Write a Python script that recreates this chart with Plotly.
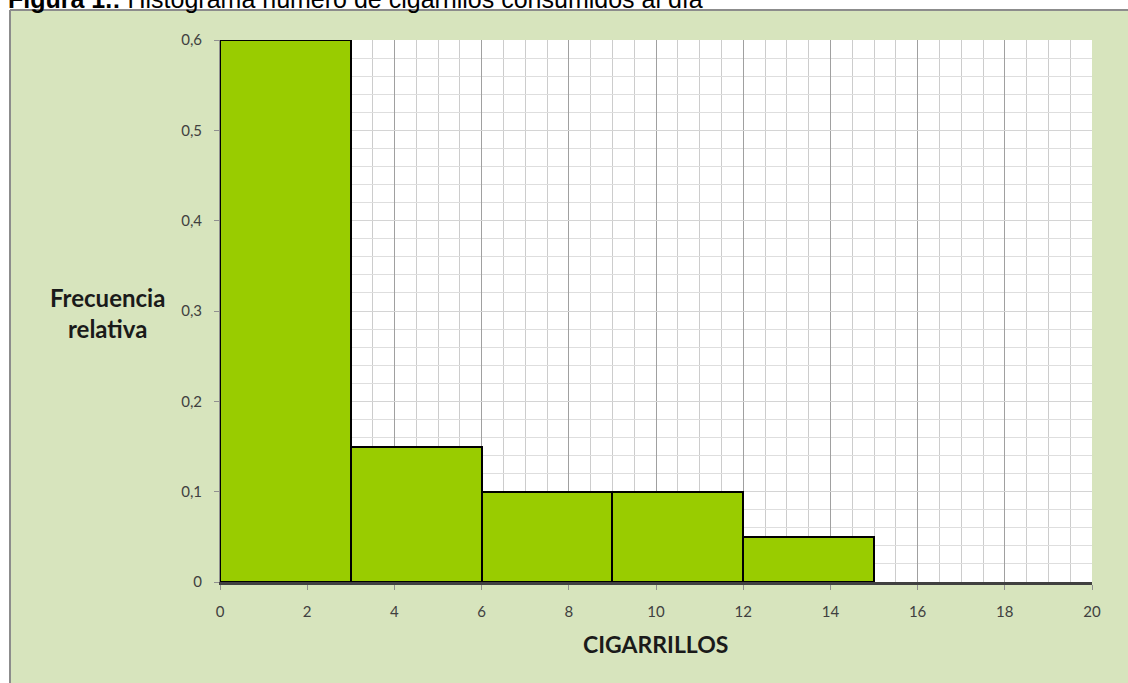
import plotly.graph_objects as go

# clases (límites) y frecuencias relativas
lim_inf = [0, 3, 6, 9, 12]
lim_sup = [3, 6, 9, 12, 15]
frec_rel = [0.6, 0.15, 0.1, 0.1, 0.05]

x_ticks = [0, 2, 4, 6, 8, 10, 12, 14, 16, 18, 20]
y_ticks = [0, 0.1, 0.2, 0.3, 0.4, 0.5, 0.6]

centros = [(a + b) / 2 for a, b in zip(lim_inf, lim_sup)]
anchos = [b - a for a, b in zip(lim_inf, lim_sup)]

W, H = 1128, 683
L, R, T, B = 220, 36, 40, 101
pw, ph = W - L - R, H - T - B


def px(x):
    return (x - L) / pw


def py(y):
    return (H - B - y) / ph


verde = "#d7e4bd"
fig = go.Figure()

fig.add_trace(go.Bar(
    x=centros, y=frec_rel, width=anchos,
    marker=dict(color="#99cc00", line=dict(color="#000000", width=2)),
    hoverinfo="skip",
))

fig.update_layout(
    width=W, height=H,
    margin=dict(l=L, r=R, t=T, b=B),
    paper_bgcolor=verde,
    plot_bgcolor="white",
    showlegend=False,
    separators=",.",
    bargap=0,
    font=dict(family="Lato", color="#404040", size=15),
)

fig.update_xaxes(
    range=[0, 20], tickvals=x_ticks,
    showgrid=True, gridcolor="#a0a0a0", gridwidth=1,
    minor=dict(dtick=0.5, showgrid=True, gridcolor="#cccccc", gridwidth=1),
    showline=True, linecolor="#404040", linewidth=3,
    ticks="outside", ticklen=5, tickcolor="#909090",
    ticklabelstandoff=9,
    tickfont=dict(size=15, color="#404040"),
    zeroline=False,
)
fig.update_yaxes(
    range=[0, 0.6], tickvals=y_ticks,
    showgrid=True, gridcolor="#d4d4d4", gridwidth=1,
    minor=dict(dtick=0.02, showgrid=True, gridcolor="#dedede", gridwidth=1),
    showline=True, linecolor="#909090", linewidth=1,
    ticks="outside", ticklen=5, tickcolor="#909090",
    ticklabelstandoff=9,
    tickfont=dict(size=15, color="#404040"),
    zeroline=False,
)

# fondo blanco fuera del panel verde y su borde gris
fig.add_shape(type="rect", xref="paper", yref="paper",
              x0=px(-5), x1=px(W + 5), y0=py(10), y1=py(-5),
              fillcolor="white", line_width=0, layer="below")
fig.add_shape(type="rect", xref="paper", yref="paper",
              x0=px(-5), x1=px(10), y0=py(H + 5), y1=py(-5),
              fillcolor="white", line_width=0, layer="below")
fig.add_shape(type="line", xref="paper", yref="paper",
              x0=px(10), x1=px(W + 5), y0=py(10), y1=py(10),
              line=dict(color="#8c8c8c", width=2))
fig.add_shape(type="line", xref="paper", yref="paper",
              x0=px(10), x1=px(10), y0=py(10), y1=py(H + 5),
              line=dict(color="#8c8c8c", width=2))

# título (cortado en la parte superior, como en el original)
fig.add_annotation(
    xref="paper", yref="paper", x=px(6), y=py(15),
    xanchor="left", yanchor="bottom", showarrow=False,
    text="<b>Figura 1.:</b> Histograma número de cigarrillos consumidos al día",
    font=dict(family="Liberation Sans", size=25, color="black"),
)

fig.add_annotation(
    xref="paper", yref="paper", x=px(107), y=py(313),
    xanchor="center", yanchor="middle", showarrow=False,
    text="<b>Frecuencia<br>relativa</b>", align="center",
    font=dict(family="Lato", size=24, color="#1a1a1a"),
)
fig.add_annotation(
    xref="paper", yref="paper", x=px(655), y=py(644),
    xanchor="center", yanchor="middle", showarrow=False,
    text="<b>CIGARRILLOS</b>",
    font=dict(family="Lato", size=23, color="#1a1a1a"),
)

fig.write_html("out.html", config={"displayModeBar": False},
               post_script="document.body.style.margin='0';")
